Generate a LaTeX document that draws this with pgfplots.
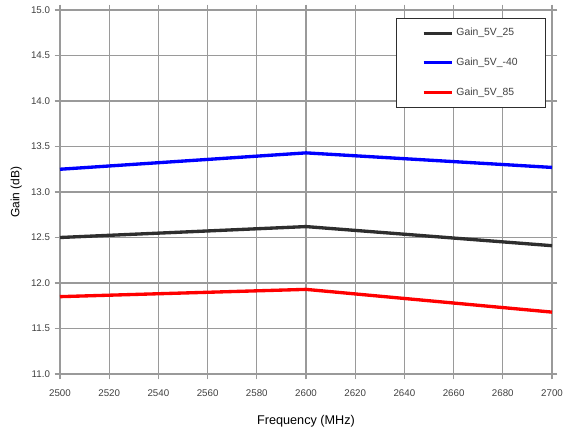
\documentclass[border=0pt]{standalone}
\usepackage{pgfplots}
\pgfplotsset{compat=1.18}
\usepackage{fontspec}
\setmainfont{Liberation Sans}
\definecolor{gridgray}{HTML}{9A9A9A}
\definecolor{darkline}{HTML}{2E2E2E}
\begin{document}
\begin{tikzpicture}
\begin{axis}[
  scale only axis,
  width=369pt, height=273pt,
  xmin=2500, xmax=2700, ymin=11, ymax=15,
  xtick={2500,2520,...,2700},
  ytick={11,11.5,...,15},
  grid=major,
  grid style={gridgray, line width=0.8pt},
  axis line style={gridgray, line width=0.8pt},
  tick style={gridgray, line width=0.8pt},
  tick align=outside,
  major tick length=4pt,
  xticklabel style={font=\fontsize{7.3}{8}\selectfont, text=black!75, yshift=-4pt},
  yticklabel style={font=\fontsize{7.3}{8}\selectfont, text=black!75},
  /pgf/number format/assume math mode=true,
  xticklabel={\pgfmathprintnumber[fixed,1000 sep={}]{\tick}},
  yticklabel={\pgfmathprintnumber[fixed,fixed zerofill,precision=1]{\tick}},
  xlabel={Frequency (MHz)},
  ylabel={Gain (dB)},
  xlabel style={font=\fontsize{9.5}{11}\selectfont, yshift=-7.5pt},
  ylabel style={font=\fontsize{9}{10}\selectfont, yshift=0pt},
  legend style={at={(rel axis cs:0.988,0.978)}, anchor=north east,
    draw=darkline, line width=0.6pt, fill=white,
    font=\fontsize{7.8}{9}\selectfont, text=black!75,
    row sep=11pt, inner xsep=19pt, inner ysep=5.5pt,
    /tikz/every even column/.append style={column sep=0pt}},
  legend image code/.code={\draw[#1, line width=2.5pt] (0cm,0cm) -- (0.75cm,0cm);},
  legend cell align=left,
  clip=false,
]
\addplot[darkline, line width=2.5pt] coordinates {(2500,12.50) (2600,12.62) (2700,12.41)};
\addlegendentry{Gain\_5V\_25}
\addplot[blue, line width=2.5pt] coordinates {(2500,13.25) (2600,13.43) (2700,13.27)};
\addlegendentry{Gain\_5V\_-40}
\addplot[red, line width=2.5pt] coordinates {(2500,11.85) (2600,11.93) (2700,11.68)};
\addlegendentry{Gain\_5V\_85}
\end{axis}
\pgfresetboundingbox
\useasboundingbox (-45pt,-46.5pt) rectangle (379.5pt,280.5pt);
\end{tikzpicture}
\end{document}
